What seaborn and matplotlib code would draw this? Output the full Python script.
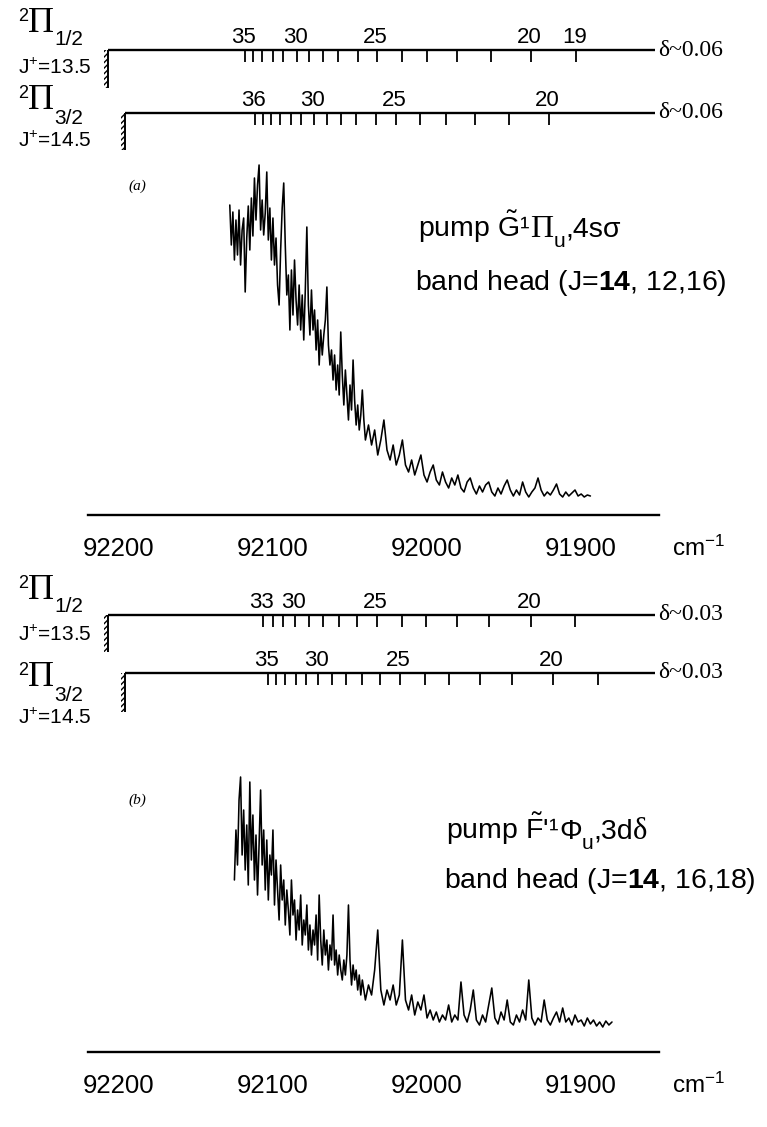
import matplotlib
matplotlib.use("Agg")
import matplotlib.pyplot as plt
import matplotlib.patches as mpatches
import seaborn as sns
import pandas as pd

# ---------------- data ----------------
# panel (a): pump G~ 1Pi_u, 4s sigma  (wavenumber cm-1, signal a.u.)
wn_a = [92128, 92127, 92126, 92125, 92124, 92123, 92122, 92121, 92120, 92119,
        92118, 92117, 92116, 92115, 92114, 92113, 92112, 92111, 92110, 92109,
        92108, 92107, 92106, 92105, 92104, 92103, 92102, 92101, 92100, 92099,
        92098, 92097, 92096, 92095, 92094, 92093, 92092, 92091, 92090, 92089,
        92088, 92087, 92086, 92085, 92084, 92083, 92082, 92081, 92080, 92079,
        92078, 92077, 92076, 92075, 92074, 92073, 92072, 92071, 92070, 92069,
        92068, 92067, 92066, 92065, 92064, 92063, 92062, 92061, 92060, 92059,
        92058, 92057, 92056, 92055, 92054, 92053, 92052, 92051, 92050, 92049,
        92048, 92047, 92046, 92045, 92044, 92043, 92042, 92041, 92040,
        92038, 92036, 92034, 92032, 92030, 92028, 92026, 92024, 92022, 92020,
        92018, 92016, 92014, 92012, 92010, 92008, 92006, 92004, 92002, 92000,
        91998, 91996, 91994, 91992, 91990, 91988, 91986, 91984, 91982, 91980,
        91978, 91976, 91974, 91972, 91970, 91968, 91966, 91964, 91962, 91960,
        91958, 91956, 91954, 91952, 91950, 91948, 91946, 91944, 91942, 91940,
        91938, 91936, 91934, 91932, 91930, 91928, 91926, 91924, 91922, 91920,
        91918, 91916, 91914, 91912, 91910, 91908, 91906, 91904, 91902, 91900,
        91898, 91896, 91894]
sig_a = [295, 255, 288, 240, 280, 245, 290, 235, 270, 282,
         208, 262, 294, 250, 302, 264, 322, 280, 315, 335,
         270, 300, 265, 287, 328, 260, 292, 240, 282, 235,
         262, 215, 195, 250, 292, 317, 255, 205, 225, 170,
         230, 185, 240, 200, 175, 215, 170, 205, 160, 210,
         273, 195, 165, 210, 170, 190, 150, 180, 135, 170,
         145, 165, 180, 213, 155, 135, 150, 120, 145, 110,
         135, 105, 168, 125, 95, 130, 105, 80, 115, 90,
         140, 100, 75, 95, 70, 85, 110, 80, 60,
         75, 55, 70, 45, 60, 80, 50, 40, 55, 35,
         45, 60, 35, 28, 40, 25, 35, 45, 25, 18,
         28, 35, 20, 15, 28, 18, 12, 22, 15, 25,
         12, 8, 18, 22, 12, 6, 14, 8, 15, 18,
         8, 4, 12, 6, 14, 20, 10, 4, 10, 5,
         18, 8, 3, 8, 12, 22, 10, 4, 8, 5,
         10, 16, 6, 3, 8, 4, 7, 10, 4, 6,
         3, 5, 4]

# panel (b): pump F~' 1Phi_u, 3d delta
wn_b = [92125, 92124, 92123, 92122, 92121, 92120, 92119, 92118, 92117, 92116,
        92115, 92114, 92113, 92112, 92111, 92110, 92109, 92108, 92107, 92106,
        92105, 92104, 92103, 92102, 92101, 92100, 92099, 92098, 92097, 92096,
        92095, 92094, 92093, 92092, 92091, 92090, 92089, 92088, 92087, 92086,
        92085, 92084, 92083, 92082, 92081, 92080, 92079, 92078, 92077, 92076,
        92075, 92074, 92073, 92072, 92071, 92070, 92069, 92068, 92067, 92066,
        92065, 92064, 92063, 92062, 92061, 92060, 92059, 92058, 92057, 92056,
        92055, 92054, 92053, 92052, 92051, 92050, 92049, 92048, 92047, 92046,
        92045, 92044, 92043, 92042, 92041, 92040,
        92038, 92036, 92034, 92032, 92030, 92028, 92026, 92024, 92022, 92020,
        92018, 92016, 92014, 92012, 92010, 92008, 92006, 92004, 92002, 92000,
        91998, 91996, 91994, 91992, 91990, 91988, 91986, 91984, 91982, 91980,
        91978, 91976, 91974, 91972, 91970, 91968, 91966, 91964, 91962, 91960,
        91958, 91956, 91954, 91952, 91950, 91948, 91946, 91944, 91942, 91940,
        91938, 91936, 91934, 91932, 91930, 91928, 91926, 91924, 91922, 91920,
        91918, 91916, 91914, 91912, 91910, 91908, 91906, 91904, 91902, 91900,
        91898, 91896, 91894, 91892, 91890, 91888, 91886, 91884, 91882, 91880]
sig_b = [150, 200, 165, 230, 253, 175, 220, 160, 205, 145,
         248, 170, 215, 150, 195, 135, 185, 240, 165, 200,
         140, 190, 130, 175, 155, 200, 125, 170, 140, 110,
         165, 130, 150, 105, 140, 120, 95, 150, 115, 130,
         90, 120, 100, 135, 85, 110, 95, 125, 80, 105,
         75, 100, 85, 115, 70, 135, 90, 65, 100, 75,
         90, 60, 85, 70, 115, 65, 80, 55, 75, 60,
         50, 70, 55, 75, 125, 70, 45, 65, 50, 60,
         40, 55, 35, 50, 40, 30,
         45, 35, 60, 100, 40, 25, 40, 30, 45, 25,
         35, 90, 30, 20, 35, 15, 28, 20, 35, 12,
         20, 10, 18, 8, 15, 10, 25, 8, 15, 10,
         48, 15, 8, 20, 40, 10, 5, 15, 8, 25,
         42, 12, 6, 18, 10, 30, 8, 5, 15, 8,
         20, 10, 50, 12, 5, 12, 8, 30, 10, 5,
         12, 18, 8, 22, 8, 12, 5, 15, 8, 10,
         4, 12, 6, 10, 4, 8, 3, 9, 5, 8]

# rotational ladders (line positions, cm-1) and the J values labelled
lad_a1_J = [35, 34, 33, 32, 31, 30, 29, 28, 27, 26, 25, 24, 23, 22, 21, 20, 19]
lad_a1 = [92118.2, 92112.8, 92107.3, 92100.2, 92093.3, 92084.6, 92076.4, 92067.3,
          92057.6, 92044.6, 92032.3, 92016.4, 91999.8, 91980.7, 91958.6, 91932.7, 91903.2]
lad_a2_J = [36, 35, 34, 33, 32, 31, 30, 29, 28, 27, 26, 25, 24, 23, 22, 21, 20]
lad_a2 = [92111.7, 92106.5, 92101.3, 92095.4, 92088.3, 92081.8, 92073.4, 92064.9,
          92055.8, 92046.1, 92033.1, 92020.1, 92004.5, 91987.6, 91968.8, 91946.7, 91920.8]
lad_b1_J = [33, 32, 31, 30, 29, 28, 27, 26, 25, 24, 23, 22, 21, 20, 19]
lad_b1 = [92106.7, 92100.2, 92093.3, 92085.7, 92076.4, 92067.3, 92056.9, 92045.6,
          92032.3, 92016.4, 92000.6, 91980.3, 91959.5, 91932.6, 91903.9]
lad_b2_J = [35, 34, 33, 32, 31, 30, 29, 28, 27, 26, 25, 24, 23, 22, 21, 20, 19]
lad_b2 = [92103.2, 92098.0, 92092.2, 92085.1, 92078.6, 92070.8, 92061.7, 92052.6,
          92042.2, 92030.5, 92017.5, 92001.3, 91985.7, 91965.6, 91944.8, 91918.2, 91888.9]
lab_a1 = [35, 30, 25, 20, 19]
lab_a2 = [36, 30, 25, 20]
lab_b1 = [33, 30, 25, 20]
lab_b2 = [35, 30, 25, 20]
head_1, head_2 = 92207, 92196      # J+ = 13.5 / 14.5 limits
lad_end = 91852

major_ticks = [92200, 92100, 92000, 91900]
minor_ticks = [92150, 92050, 91950, 91850]

# ---------------- style ----------------
sns.set_style("white")
plt.rcParams['font.family'] = ['Liberation Sans', 'DejaVu Sans']
plt.rcParams['text.color'] = 'black'
plt.rcParams['xtick.color'] = 'black'
plt.rcParams['axes.edgecolor'] = 'black'
plt.rcParams['mathtext.fontset'] = 'custom'
plt.rcParams['mathtext.rm'] = 'Liberation Sans'
plt.rcParams['mathtext.it'] = 'Liberation Sans:italic'
plt.rcParams['mathtext.bf'] = 'Liberation Sans:bold'
plt.rcParams['hatch.linewidth'] = 1.0
SERIF = ['Liberation Serif', 'DejaVu Serif']

W, H = 767, 1127
fig = plt.figure(figsize=(W / 100, H / 100), dpi=100)


def fx(px):
    return px / W


def fy(py):
    return 1 - py / H


def chain(ax, x0, y0, pieces):
    # pieces: (text, baseline px, kwargs) drawn one after the other
    prev = None
    for s, yb, kw in pieces:
        if prev is None:
            t = ax.annotate(s, xy=(fx(x0), fy(yb)), xycoords='figure fraction',
                            ha='left', va='baseline', annotation_clip=False, **kw)
        else:
            t = ax.annotate(s, xy=(1, fy(yb)), xycoords=(prev, 'figure fraction'),
                            ha='left', va='baseline', annotation_clip=False, **kw)
        prev = t


def ladder(ax, pos, Js, labs, y0, head, hatch_len, delta):
    ax.hlines(y0, head, lad_end, color='black', lw=1.7, clip_on=False)
    ax.vlines(pos, y0 - 12, y0, color='black', lw=1.3, clip_on=False)
    ax.vlines(head, y0 - hatch_len, y0, color='black', lw=1.4, clip_on=False)
    ax.add_patch(mpatches.Rectangle((head, y0 - hatch_len), 2.6, hatch_len, fill=False,
                                    hatch='//////', edgecolor='black', lw=0, clip_on=False))
    for j in labs:
        ax.text(pos[Js.index(j)] + 1.0, y0 + 2, str(j), ha='center', va='bottom',
                fontsize=16, clip_on=False)
    ax.text(lad_end - 2, y0, delta, ha='left', va='center', fontsize=17,
            family=SERIF, clip_on=False)


def panel(ax, wn, sig, ylim):
    df = pd.DataFrame({'wn': wn, 'sig': sig})
    sns.lineplot(data=df, x='wn', y='sig', ax=ax, color='black', lw=1.15,
                 estimator=None, sort=False)
    ax.set_xlim(92220, 91849.5)
    ax.set_ylim(*ylim)
    ax.set_xlabel('')
    ax.set_ylabel('')
    ax.set_yticks([])
    for s in ['top', 'left', 'right']:
        ax.spines[s].set_visible(False)
    ax.spines['bottom'].set_linewidth(1.7)
    ax.set_xticks(major_ticks)
    ax.set_xticks(minor_ticks, minor=True)
    ax.set_xticklabels([str(t) for t in major_ticks])
    ax.tick_params(axis='x', which='major', direction='out', length=8, width=1.5,
                   labelsize=18.5, pad=8)
    ax.tick_params(axis='x', which='minor', direction='out', length=5, width=1.3)
    ax.patch.set_alpha(0)


ax_a = fig.add_axes([fx(88), fy(515), fx(659) - fx(88), 485 / H])
ax_b = fig.add_axes([fx(88), fy(1052), fx(659) - fx(88), 482 / H])

# ---------------- panel (a) ----------------
panel(ax_a, wn_a, sig_a, (-15, 470))
ladder(ax_a, lad_a1, lad_a1_J, lab_a1, 450, head_1, 38, r'δ~0.06')
ladder(ax_a, lad_a2, lad_a2_J, lab_a2, 387, head_2, 37, r'δ~0.06')

# ---------------- panel (b) ----------------
panel(ax_b, wn_b, sig_b, (-22, 460))
ladder(ax_b, lad_b1, lad_b1_J, lab_b1, 415, head_1, 37, r'δ~0.03')
ladder(ax_b, lad_b2, lad_b2_J, lab_b2, 357, head_2, 39, r'δ~0.03')

# state labels on the left
for off, ax in [(0, ax_a), (567, ax_b)]:
    chain(ax, 18, 21 + off, [('2', 21 + off, dict(fontsize=13)),
                             ('Π', 32 + off, dict(fontsize=26, family=SERIF)),
                             ('1/2', 45 + off, dict(fontsize=15))])
    ax.annotate(r'J$^{+}$=13.5', xy=(fx(18), fy(74 + off)), xycoords='figure fraction',
                ha='left', va='baseline', fontsize=15, annotation_clip=False)
for off, ax in [(0, ax_a), (577, ax_b)]:
    chain(ax, 18, 98 + off, [('2', 98 + off, dict(fontsize=13)),
                             ('Π', 109 + off, dict(fontsize=26, family=SERIF)),
                             ('3/2', 124 + off, dict(fontsize=15))])
    ax.annotate(r'J$^{+}$=14.5', xy=(fx(18), fy(147 + off)), xycoords='figure fraction',
                ha='left', va='baseline', fontsize=15, annotation_clip=False)

# panel tags and pump annotations
fig.text(fx(137), fy(186), '(a)', ha='center', va='center', fontsize=11,
         style='italic', family=SERIF)
fig.text(fx(137), fy(800), '(b)', ha='center', va='center', fontsize=11,
         style='italic', family=SERIF)

chain(ax_a, 418, 237, [(r'pump $\tilde{\mathrm{G}}$¹', 237, dict(fontsize=20.5)),
                       ('Π', 237, dict(fontsize=23, family=SERIF)),
                       ('u', 247, dict(fontsize=15)),
                       (',4sσ', 237, dict(fontsize=20.5))])
fig.text(fx(415), fy(290), r'band head (J=$\mathbf{14}$, 12,16)', ha='left',
         va='baseline', fontsize=20.5)

chain(ax_b, 446, 839, [(r"pump $\tilde{\mathrm{F}}$'¹", 839, dict(fontsize=20.5)),
                       ('Φ', 839, dict(fontsize=20.5)),
                       ('u', 849, dict(fontsize=15)),
                       (',3d', 839, dict(fontsize=20.5)),
                       ('δ', 839, dict(fontsize=22, family=SERIF))])
fig.text(fx(444), fy(888), r'band head (J=$\mathbf{14}$, 16,18)', ha='left',
         va='baseline', fontsize=20.5)

# axis unit
for yy in [548, 1085]:
    fig.text(fx(672), fy(yy), r'cm$^{-1}$', ha='left', va='center', fontsize=17.5)

fig.savefig('out.png', dpi=100)
